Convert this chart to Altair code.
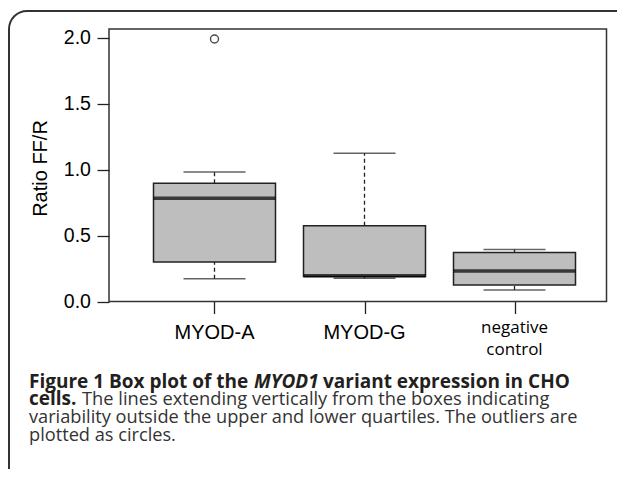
import altair as alt
import pandas as pd

# ---- data ----
groups = ["MYOD-A", "MYOD-G", "negative control"]
positions = [1, 2, 3]
whisker_low = [0.173, 0.176, 0.087]
quartile_1 = [0.300, 0.189, 0.125]
medians = [0.782, 0.195, 0.231]
quartile_3 = [0.896, 0.575, 0.372]
whisker_high = [0.982, 1.124, 0.394]
outlier_pos = [1]
outlier_val = [1.99]
y_ticks = [0.0, 0.5, 1.0, 1.5, 2.0]
y_title = "Ratio FF/R"

caption_1a = "Figure 1 Box plot of the"
caption_1b = "MYOD1"
caption_1c = "variant expression in CHO"
caption_2a = "cells."
caption_2b = "The lines extending vertically from the boxes indicating"
caption_3 = "variability outside the upper and lower quartiles. The outliers are"
caption_4 = "plotted as circles."

df = pd.DataFrame({
    "group": groups,
    "pos": positions,
    "lo": whisker_low,
    "q1": quartile_1,
    "med": medians,
    "q3": quartile_3,
    "hi": whisker_high,
})
out_df = pd.DataFrame({"pos": outlier_pos, "val": outlier_val})
one = pd.DataFrame({"k": [0]})

xs = alt.Scale(domain=[0.33, 3.58], nice=False, zero=False)
ys = alt.Scale(domain=[0, 2.066], nice=False, zero=False)

x_axis = alt.Axis(values=positions, labels=False, tickSize=12, tickColor="#222",
                  tickWidth=1.3, domain=False, grid=False, title=None)
y_axis = alt.Axis(values=y_ticks, format=".1f", labelFont="Liberation Sans",
                  labelFontSize=19.5, labelColor="black", tickSize=12, tickColor="#222",
                  tickWidth=1.3, domain=False, grid=False, labelPadding=6.6,
                  title=y_title, titleFont="Liberation Sans", titleFontSize=20,
                  titleFontWeight="normal", titleColor="black", titleAngle=270,
                  titleX=-62.3, titleY=139, titleAlign="center",
                  titleBaseline="alphabetic")

X = alt.X("pos:Q", scale=xs, axis=x_axis)

base = alt.Chart(df)

# rounded outer frame (top and left edges; the rest runs off the page)
fc = "#333"
frame_top = alt.Chart(one).mark_rule(color=fc, strokeWidth=2).encode(
    x=alt.value(-82), x2=alt.value(700), y=alt.value(-18))
frame_left = alt.Chart(one).mark_rule(color=fc, strokeWidth=2).encode(
    x=alt.value(-100), y=alt.value(0), y2=alt.value(600))
frame_corner = alt.Chart(one).mark_arc(innerRadius=17, outerRadius=19, color=fc).encode(
    x=alt.value(-82), y=alt.value(0), theta=alt.value(4.7124), theta2=alt.value(6.2832))

whisk_up = base.mark_rule(strokeDash=[4, 3], color="#222", strokeWidth=1.3).encode(
    x=X, y=alt.Y("q3:Q", scale=ys, axis=y_axis), y2="hi:Q")
whisk_dn = base.mark_rule(strokeDash=[4, 3], color="#222", strokeWidth=1.3).encode(
    x=X, y=alt.Y("lo:Q", scale=ys, axis=y_axis), y2="q1:Q")
cap_up = base.mark_tick(orient="horizontal", size=62, thickness=1.5, color="#222").encode(
    x=X, y=alt.Y("hi:Q", scale=ys, axis=y_axis))
cap_dn = base.mark_tick(orient="horizontal", size=62, thickness=1.5, color="#222").encode(
    x=X, y=alt.Y("lo:Q", scale=ys, axis=y_axis))
boxes = base.mark_bar(size=122, fill="#bebebe", stroke="#222", strokeWidth=1.5).encode(
    x=X, y=alt.Y("q1:Q", scale=ys, axis=y_axis), y2="q3:Q")
meds = base.mark_tick(orient="horizontal", size=122, thickness=3.5, color="black").encode(
    x=X, y=alt.Y("med:Q", scale=ys, axis=y_axis))
outl = alt.Chart(out_df).mark_point(shape="circle", filled=False, size=64,
                                    stroke="black", strokeWidth=1.4).encode(
    x=X, y=alt.Y("val:Q", scale=ys, axis=y_axis))

lab_a = base.transform_filter("datum.pos < 3").mark_text(
    font="Liberation Sans", fontSize=20, baseline="alphabetic", align="center",
    color="black").encode(x=X, y=alt.value(310.3), text="group:N")
lab_b = base.transform_filter("datum.pos == 3").mark_text(
    font="Open Sans", fontSize=17, baseline="alphabetic", align="center",
    color="black", lineBreak=" ", lineHeight=21.7).encode(
    x=X, y=alt.value(304.3), text="group:N")

def cap(txt, x, y, size, weight="normal", style="normal", color="#333"):
    return alt.Chart(one).mark_text(
        font="Open Sans", fontSize=size, fontWeight=weight, fontStyle=style,
        align="left", baseline="alphabetic", color=color).encode(
        x=alt.value(x), y=alt.value(y), text=alt.value(txt))

dark = "#231f20"
captions = [
    cap(caption_1a, -80, 358.7, 19, "bold", "normal", dark),
    cap(caption_1b, 145, 358.7, 19, "bold", "italic", dark),
    cap(caption_1c, 214, 358.7, 19, "bold", "normal", dark),
    cap(caption_2a, -80, 376.3, 19, "bold", "normal", dark),
    cap(caption_2b, -27, 376.3, 18.3),
    cap(caption_3, -80, 394.2, 18.2),
    cap(caption_4, -80, 412, 18.2),
]

chart = alt.layer(frame_top, frame_left, frame_corner, whisk_up, whisk_dn, cap_up,
                  cap_dn, boxes, meds, outl, lab_a, lab_b, *captions).properties(
    width=497.5, height=272.5,
    padding={"left": 101, "top": 21, "right": 10.5, "bottom": 167.5},
    autosize=alt.AutoSizeParams(type="none"),
    background="white",
).configure_view(stroke="#333", strokeWidth=1.5)

chart.save("out.html", embed_options={"renderer": "svg", "actions": False})
